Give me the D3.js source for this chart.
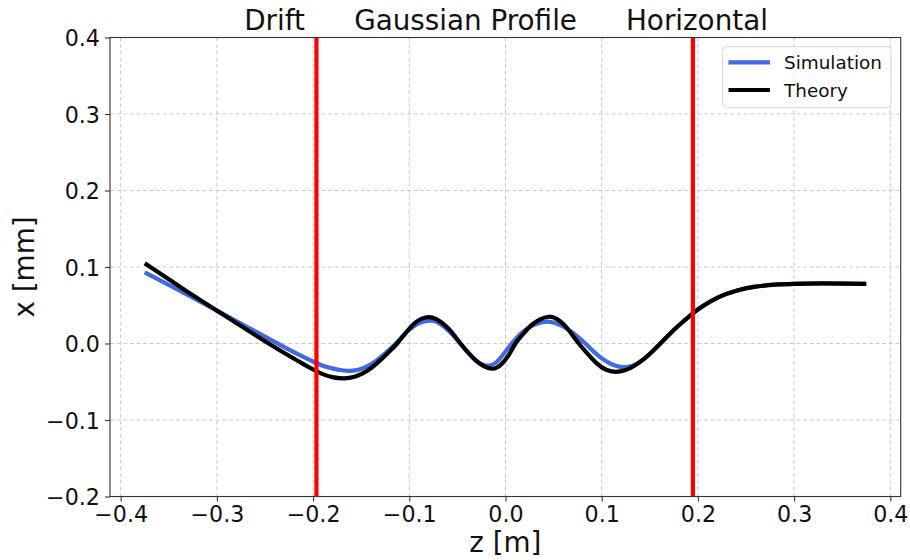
<!DOCTYPE html>
<html>
<head>
<meta charset="utf-8">
<script src="https://cdn.jsdelivr.net/npm/d3@7"></script>
<style>
  html, body { margin: 0; padding: 0; background: #fff; }
  svg { display: block; font-family: "DejaVu Sans", sans-serif; }
</style>
</head>
<body>
<svg id="chart" width="910" height="560"></svg>
<script>
// Beam centroid x (mm) along z (m): simulated vs. theoretical trajectory
const theoryZ = [-0.375, -0.35, -0.325, -0.30, -0.275, -0.25, -0.225, -0.21, -0.20, -0.19,
  -0.18, -0.168, -0.156, -0.144, -0.132, -0.122, -0.1126, -0.103, -0.094, -0.087,
  -0.0797, -0.072, -0.064, -0.056, -0.0468, -0.038, -0.030, -0.022, -0.013, -0.005,
  0.003, 0.0104, 0.018, 0.026, 0.035, 0.045, 0.054, 0.062, 0.069, 0.0762,
  0.085, 0.094, 0.104, 0.1143, 0.124, 0.134, 0.145, 0.153, 0.161, 0.170,
  0.180, 0.1947, 0.205, 0.222, 0.24, 0.258, 0.28, 0.30, 0.33, 0.375];
const theoryX = [0.105, 0.084, 0.063, 0.043, 0.023, 0.003, -0.016, -0.027, -0.034, -0.040,
  -0.044, -0.0455, -0.043, -0.036, -0.024, -0.012, 0.000, 0.015, 0.027, 0.0325,
  0.0345, 0.032, 0.025, 0.015, 0.000, -0.013, -0.023, -0.030, -0.033, -0.028,
  -0.016, 0.000, 0.012, 0.023, 0.031, 0.035, 0.0315, 0.023, 0.012, 0.000,
  -0.013, -0.025, -0.034, -0.037, -0.035, -0.029, -0.019, -0.010, 0.000, 0.0115,
  0.0235, 0.0395, 0.049, 0.061, 0.069, 0.074, 0.077, 0.078, 0.0785, 0.078];

const simZ = [-0.375, -0.35, -0.325, -0.30, -0.275, -0.25, -0.225, -0.21, -0.20, -0.19,
  -0.18, -0.17, -0.161, -0.152, -0.144, -0.135, -0.125, -0.114, -0.105, -0.096,
  -0.087, -0.079, -0.071, -0.063, -0.055, -0.047, -0.039, -0.032, -0.025, -0.018,
  -0.011, -0.004, 0.004, 0.012, 0.021, 0.031, 0.043, 0.053, 0.063, 0.073,
  0.083, 0.093, 0.103, 0.113, 0.123, 0.132, 0.142, 0.152, 0.161, 0.170,
  0.180, 0.1947, 0.205, 0.222, 0.24, 0.258, 0.28, 0.30, 0.33, 0.375];
const simX = [0.093, 0.0765, 0.060, 0.043, 0.026, 0.009, -0.008, -0.0175, -0.0235, -0.029,
  -0.0325, -0.035, -0.0357, -0.034, -0.030, -0.023, -0.013, 0.000, 0.012, 0.022,
  0.028, 0.030, 0.028, 0.021, 0.0115, 0.000, -0.012, -0.021, -0.027, -0.029,
  -0.026, -0.017, -0.004, 0.008, 0.018, 0.025, 0.0285, 0.026, 0.020, 0.011,
  0.000, -0.012, -0.022, -0.0285, -0.031, -0.029, -0.022, -0.011, 0.000, 0.0115,
  0.0235, 0.039, 0.0485, 0.0605, 0.069, 0.074, 0.077, 0.078, 0.0785, 0.078];

// Section boundaries (m) and section names
const boundaries = [-0.1965, 0.1948];
const sectionNames = ["Drift", "Gaussian Profile", "Horizontal"];
const sectionLabelZ = [-0.240, -0.0415, 0.199];

const xTicks = [-0.4, -0.3, -0.2, -0.1, 0.0, 0.1, 0.2, 0.3, 0.4];
const yTicks = [-0.2, -0.1, 0.0, 0.1, 0.2, 0.3, 0.4];

const seriesNames = ["Simulation", "Theory"];
const seriesColors = ["#4169e1", "#000000"];

const svg = d3.select("#chart");
const L = 110, R = 900.7, T = 37.5, B = 496.5;

const x = d3.scaleLinear().domain([-0.4111, 0.4108]).range([L, R]);
const y = d3.scaleLinear().domain([-0.2, 0.4]).range([B, T]);

const fmt = d => d3.format(".1f")(d).replace("-", "\u2212");

// grid
const grid = svg.append("g").attr("stroke", "#c4c4c4").attr("stroke-width", 0.9)
  .attr("stroke-dasharray", "4,2.6");
grid.selectAll("line.gx").data(xTicks).join("line")
  .attr("x1", d => x(d)).attr("x2", d => x(d)).attr("y1", T).attr("y2", B);
grid.selectAll("line.gy").data(yTicks).join("line")
  .attr("x1", L).attr("x2", R).attr("y1", d => y(d)).attr("y2", d => y(d));

// curves
const line = d3.line().x(d => x(d[0])).y(d => y(d[1])).curve(d3.curveNatural);
const simData = simZ.map((z, i) => [z, simX[i]]);
const theoryData = theoryZ.map((z, i) => [z, theoryX[i]]);

svg.append("path").datum(simData).attr("d", line)
  .attr("fill", "none").attr("stroke", seriesColors[0]).attr("stroke-width", 4.2)
  .attr("stroke-linejoin", "round").attr("stroke-linecap", "butt");
svg.append("path").datum(theoryData).attr("d", line)
  .attr("fill", "none").attr("stroke", seriesColors[1]).attr("stroke-width", 4.2)
  .attr("stroke-linejoin", "round").attr("stroke-linecap", "butt");

// section boundaries
svg.selectAll("line.bound").data(boundaries).join("line")
  .attr("x1", d => x(d)).attr("x2", d => x(d)).attr("y1", T).attr("y2", B)
  .attr("stroke", "#ff0000").attr("stroke-width", 4.2);

// axes
const xAxis = d3.axisBottom(x).tickValues(xTicks).tickFormat(fmt).tickSize(5).tickPadding(5);
const yAxis = d3.axisLeft(y).tickValues(yTicks).tickFormat(fmt).tickSize(5).tickPadding(5);

const gx = svg.append("g").attr("transform", `translate(0,${B})`).call(xAxis);
const gy = svg.append("g").attr("transform", `translate(${L},0)`).call(yAxis);
[gx, gy].forEach(g => {
  g.select(".domain").remove();
  g.selectAll(".tick line").attr("stroke", "#333").attr("stroke-width", 1.1);
  g.selectAll(".tick text").attr("font-family", "DejaVu Sans").attr("font-size", 22.2)
    .attr("fill", "#111");
});
gy.selectAll(".tick text").attr("dy", "0.36em");

// frame
svg.append("rect").attr("x", L).attr("y", T).attr("width", R - L).attr("height", B - T)
  .attr("fill", "none").attr("stroke", "#333").attr("stroke-width", 1.1);

// section titles
svg.selectAll("text.sec").data(sectionNames).join("text")
  .attr("x", (d, i) => x(sectionLabelZ[i])).attr("y", 30)
  .attr("text-anchor", "middle").attr("font-size", 27.8).attr("fill", "#111")
  .text(d => d);

// axis labels
svg.append("text").attr("x", (L + R) / 2).attr("y", 552)
  .attr("text-anchor", "middle").attr("font-size", 27.8).attr("fill", "#111").text("z [m]");
svg.append("text").attr("transform", `translate(34,${(T + B) / 2}) rotate(-90)`)
  .attr("text-anchor", "middle").attr("font-size", 27.8).attr("fill", "#111").text("x [mm]");

// legend
const lg = svg.append("g");
lg.append("rect").attr("x", 722.7).attr("y", 46.7).attr("width", 168.3).attr("height", 61)
  .attr("rx", 4).attr("fill", "#fff").attr("fill-opacity", 0.8)
  .attr("stroke", "#d6d6d6").attr("stroke-width", 1);
seriesNames.forEach((name, i) => {
  const yy = 62.3 + i * 27.7;
  lg.append("line").attr("x1", 728.5).attr("x2", 770).attr("y1", yy).attr("y2", yy)
    .attr("stroke", seriesColors[i]).attr("stroke-width", 4.2);
  lg.append("text").attr("x", 784).attr("y", yy + 6.5).attr("font-size", 18.4)
    .attr("fill", "#111").text(name);
});
</script>
</body>
</html>
